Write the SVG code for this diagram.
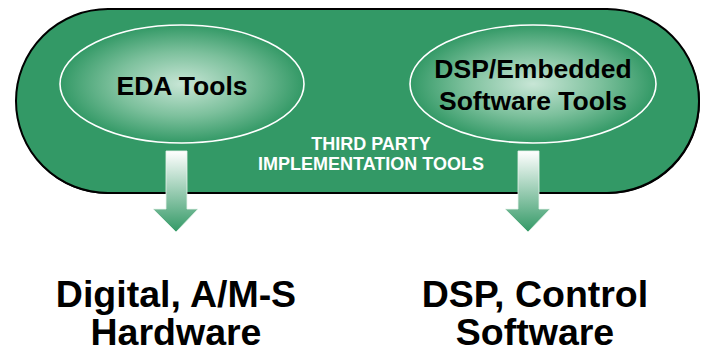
<svg xmlns="http://www.w3.org/2000/svg" width="701" height="355" viewBox="0 0 701 355">
  <style>
    .lbl { font-family: "Liberation Sans", Arial, sans-serif; font-weight: bold; text-anchor: middle; }
    .in { font-size: 26.5px; fill: #000; }
    .mid { font-size: 18px; fill: #fff; }
    .out { font-size: 37.5px; fill: #000; }
    .oval { stroke: #fff; stroke-width: 1.6; fill: url(#ovalFill); }
    .arrow { fill: url(#arrowFill); stroke: #e8f4ec; stroke-width: 0.8; }
  </style>
  <defs>
    <radialGradient id="ovalFill" cx="0.5" cy="0.5" r="0.5">
      <stop offset="0" stop-color="#c8e6d6"/>
      <stop offset="0.55" stop-color="#7cc09c"/>
      <stop offset="1" stop-color="#339966"/>
    </radialGradient>
    <linearGradient id="arrowFill" x1="0" y1="0" x2="0" y2="1">
      <stop offset="0" stop-color="#ffffff"/>
      <stop offset="1" stop-color="#339966"/>
    </linearGradient>
  </defs>

  <!-- outer band: third party implementation tools -->
  <g id="band">
    <path d="M108,10 H608 A92,92 0 0 1 608,194 H108 A92,92 0 0 1 108,10 Z" fill="#000"/>
    <path d="M108,9 H607 A92,92 0 0 1 607,193 H108 A92,92 0 0 1 108,9 Z" fill="#339966" stroke="#000" stroke-width="2"/>
    <text class="lbl mid" x="371" y="150">THIRD PARTY</text>
    <text class="lbl mid" x="371" y="170">IMPLEMENTATION TOOLS</text>
  </g>

  <g id="eda">
    <ellipse class="oval" cx="182" cy="84" rx="122" ry="59"/>
    <text class="lbl in" x="182" y="95">EDA Tools</text>
  </g>

  <g id="dsp-tools">
    <ellipse class="oval" cx="533" cy="84" rx="123" ry="59"/>
    <text class="lbl in" x="533" y="78">DSP/Embedded</text>
    <text class="lbl in" x="533" y="110">Software Tools</text>
  </g>

  <!-- downward flow arrows -->
  <g id="connectors">
    <path class="arrow" d="M166,151 H187 V209 H198 L176,232 L153,209 H166 Z"/>
    <path class="arrow" d="M518,151 H539 V209 H550 L528,232 L505,209 H518 Z"/>
  </g>

  <g id="hardware">
    <text class="lbl out" x="176" y="307">Digital, A/M-S</text>
    <text class="lbl out" x="176" y="345">Hardware</text>
  </g>

  <g id="software">
    <text class="lbl out" x="535" y="307">DSP, Control</text>
    <text class="lbl out" x="535" y="345">Software</text>
  </g>
</svg>
